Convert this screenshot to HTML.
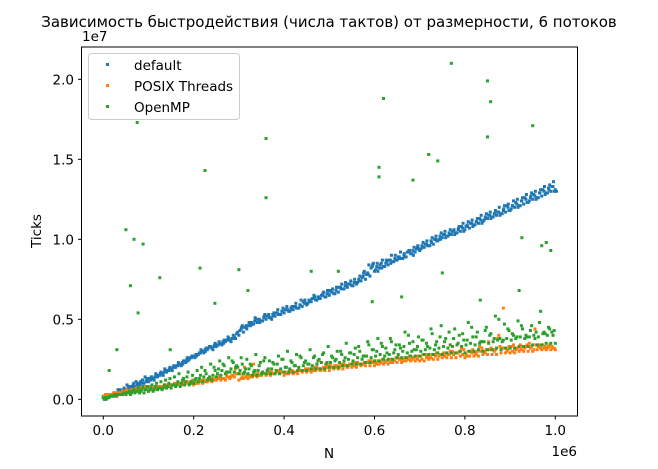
<!DOCTYPE html>
<html><head><meta charset="utf-8"><style>
html,body{margin:0;padding:0;background:#fff;}
svg{display:block;font-family:"DejaVu Sans","Liberation Sans",sans-serif;}
</style></head><body>
<svg id="chart" width="658" height="469" viewBox="0 0 658 469">
<rect width="658" height="469" fill="#fff"/>
<text x="329" y="27" text-anchor="middle" font-size="15" fill="#000">Зависимость быстродействия (числа тактов) от размерности, 6 потоков</text>
<g id="marks"></g>
<rect x="81.5" y="47" width="496" height="369" fill="none" stroke="#000" stroke-width="1"/>
<g id="xticks"></g>
<g id="yticks"></g>
<text x="82" y="41" font-size="13.5">1e7</text>
<text x="577" y="456" font-size="13.5" text-anchor="end">1e6</text>
<text x="329" y="458" font-size="13.5" text-anchor="middle">N</text>
<text x="41" y="231" font-size="13.5" text-anchor="middle" transform="rotate(-90 41 231)">Ticks</text>
<g>
<rect x="88.5" y="53.5" width="151" height="66" rx="3" fill="#fff" fill-opacity="0.8" stroke="#ccc"/>
<rect x="106" y="63" width="3" height="3" fill="#1f77b4"/>
<text x="134" y="70" font-size="13.5">default</text>
<rect x="106" y="84" width="3" height="3" fill="#ff7f0e"/>
<text x="134" y="91" font-size="13.5">POSIX Threads</text>
<rect x="106" y="105" width="3" height="3" fill="#2ca02c"/>
<text x="134" y="112" font-size="13.5">OpenMP</text>
</g>
</svg>
<script>
// values in units of 1e5 ticks; each run sampled every 10k of N with its own offset
const xTickLabels = ["0.0","0.2","0.4","0.6","0.8","1.0"];
const yTickLabels = ["0.0","0.5","1.0","1.5","2.0"];
const defaultA = [1,2,3,4,5,6,7,8,9,10,11,13,14,16,17,19,20,22,24,25,27,28,30,31,32,33,35,36,37,39,40,42,46,47,48,49,50,51,52,53,54,55,56,57,58,59,61,62,63,64,65,66,67,69,70,71,72,74,75,77,80,82,83,84,86,87,88,89,91,92,93,95,96,97,99,101,102,103,104,105,106,107,109,110,111,113,114,115,116,117,118,120,121,122,123,125,126,127,129,130,131];
const defaultB = [1,2,4,4,6,7,8,9,10,11,12,14,15,17,18,20,21,23,25,26,28,29,31,33,33,34,36,37,38,41,44,45,47,49,50,51,52,53,54,55,56,57,58,59,60,62,63,64,65,66,67,68,70,71,72,73,75,77,79,83,83,85,85,87,88,89,90,92,93,95,96,97,99,100,102,103,104,105,106,107,109,110,111,112,114,115,116,117,118,120,121,122,124,125,126,127,129,130,132,133];
const defaultC = [0,3,2,6,5,9,8,11,11,14,13,12,15,15,18,18,21,21,23,26,26,29,29,32,31,34,34,37,36,38,43,45,48,47,50,49,52,50,54,53,56,55,58,57,61,60,63,62,65,64,68,66,70,69,72,71,73,76,78,82,81,84,83,87,86,89,88,92,91,94,94,97,96,100,100,103,102,105,104,108,108,110,109,113,112,115,114,117,116,121,119,123,121,126,124,128,126,131,129,133,130];
const defaultD = [1,3,4,6,6,8,10,10,12,13,14,15,17,18,20,20,22,24,24,27,28,30,32,33,35,35,37,38,40,42,46,44,48,50,49,53,51,54,53,57,56,58,57,62,60,62,64,63,67,66,69,70,72,71,74,73,77,80,84,85,80,87,86,90,87,92,89,93,95,94,98,96,101,99,104,101,106,103,108,105,111,108,113,110,116,113,118,115,121,118,124,120,126,123,129,125,131,128,134,130];
const defaultE = [0,2,3,5,7,7,9,10,12,12,14,16,16,19,19,21,23,22,26,27,27,31,30,33,34,36,35,39,38,41,45,46,46,51,48,52,53,52,56,55,58,56,60,59,62,61,65,64,66,68,67,70,69,73,72,75,74,79,78,84,85,82,87,85,90,88,91,93,90,96,95,99,98,102,100,105,103,106,107,110,108,112,111,115,113,117,116,120,119,122,121,125,124,128,127,130,129,133,131,136];
const posixA = [2,3,3,4,4,5,5,6,6,7,5,6,7,7,8,8,9,9,10,10,9,10,10,11,11,12,12,12,13,14,12,13,13,14,14,15,15,15,16,16,15,16,16,16,17,17,17,18,18,18,18,19,19,19,20,20,20,21,21,21,21,22,22,22,23,23,23,24,24,24,24,24,25,25,25,26,26,26,26,27,26,27,27,27,28,28,28,28,29,29,29,29,30,30,30,30,31,31,31,31,31];
const posixB = [3,3,4,4,5,5,6,6,7,7,6,7,7,8,8,9,10,9,11,10,10,11,11,12,12,13,13,14,15,16,13,14,14,15,15,16,16,16,17,17,16,17,17,18,18,19,18,19,19,20,20,20,21,21,22,21,22,22,23,23,22,23,24,23,24,25,24,25,26,25,25,26,26,27,28,27,28,28,29,28,27,29,28,30,29,31,30,40,57,31,30,32,31,33,32,44,34,32,33,32];
const posixC = [2,3,4,4,5,6,6,7,7,8,8,7,8,8,9,9,10,10,11,11,10,11,12,12,13,14,13,15,14,19,16,20,15,22,16,17,16,17,18,17,17,18,17,19,18,19,19,20,19,20,21,21,20,22,21,22,23,22,23,24,23,24,23,25,24,26,25,26,25,27,27,28,26,28,27,29,28,30,29,32,28,30,29,33,30,36,31,38,32,30,33,31,34,32,35,31,33,34,32,33];
const posixD = [2,3,3,4,5,5,6,7,7,8,7,8,8,9,9,10,10,11,10,12,11,12,11,13,12,14,13,14,15,16,14,15,15,16,15,16,17,16,18,17,16,18,17,18,19,18,20,19,20,21,20,21,22,21,22,23,22,23,24,23,24,25,24,25,26,25,26,27,26,27,28,27,28,29,28,29,30,29,30,31,30,31,30,32,31,32,31,33,32,33,34,32,33,34,33,34,32,33,34,32];
const openmpA = [1,1,2,2,3,3,3,4,4,4,5,5,6,6,7,7,8,8,9,9,10,11,11,12,12,14,15,16,17,17,16,16,16,15,15,16,16,16,16,16,17,17,17,18,18,18,19,19,19,19,20,20,20,21,21,22,22,22,23,23,24,24,25,25,25,26,26,26,27,27,27,28,28,28,29,28,29,29,29,30,29,30,30,31,30,31,31,32,31,32,32,32,33,33,33,34,34,34,35,35,35];
const openmpB = [1,2,3,3,4,4,5,5,6,6,7,8,7,9,10,9,11,12,14,11,13,15,18,14,20,19,22,17,24,21,26,19,22,18,21,24,19,23,22,25,20,24,21,27,23,22,26,24,28,23,27,25,30,26,29,28,33,27,36,31,30,35,32,38,31,34,33,40,36,33,37,35,44,34,39,36,42,38,35,41,37,45,39,36,43,40,38,50,37,44,41,39,46,40,43,38,48,42,45,40];
const openmpC = [0,1,2,3,3,4,4,5,5,6,6,6,7,7,8,9,9,10,11,10,12,13,14,13,15,16,18,17,19,20,18,17,19,17,18,17,18,19,18,19,20,19,21,20,21,22,21,22,23,22,23,24,23,24,25,24,26,25,27,26,27,28,27,28,29,28,30,29,30,31,30,31,32,31,32,33,32,33,34,33,34,35,34,35,36,35,36,37,36,38,37,38,39,38,39,40,39,41,40,42];
const openmpD = [1,2,2,3,4,5,6,7,8,8,9,10,11,12,13,14,16,13,17,15,18,20,16,22,18,24,21,26,23,20,22,25,21,28,23,26,24,22,27,25,30,23,28,26,24,31,27,25,29,33,26,30,28,35,29,32,30,27,34,31,38,33,29,36,34,32,42,35,31,39,37,33,41,36,46,38,34,44,40,37,48,39,42,36,45,41,52,38,47,43,40,49,44,39,46,42,55,41,44,43];
// outliers: N in units of 1e6, ticks in units of 1e7
const openmpOutlierN = [0.075,0.05,0.068,0.088,0.06,0.077,0.125,0.214,0.225,0.30,0.36,0.36,0.32,0.46,0.62,0.61,0.61,0.685,0.72,0.74,0.77,0.85,0.857,0.85,0.95,0.97,0.98,0.99,0.92,0.75,0.926,0.834,0.66,0.595,0.013,0.03,0.148,0.247,0.52];
const openmpOutlierTicks = [1.73,1.06,1.0,0.97,0.71,0.54,0.76,0.82,1.43,0.81,1.63,1.26,0.68,0.80,1.88,1.45,1.39,1.37,1.53,1.49,2.1,1.99,1.86,1.64,1.71,0.96,0.98,0.93,0.68,0.79,1.01,0.62,0.64,0.61,0.18,0.31,0.31,0.6,0.8];

const NS='http://www.w3.org/2000/svg';
function xScale(n){ return 103.3 + n*452; }      // n in 1e6
function yScale(v){ return 399.3 - v*160; }      // v in 1e7
const marks=document.getElementById('marks');
function dot(n,v,color,name){
  const r=document.createElementNS(NS,'rect');
  r.setAttribute('x',(xScale(n)-1.5).toFixed(2));
  r.setAttribute('y',(yScale(v)-1.5).toFixed(2));
  r.setAttribute('width','3');r.setAttribute('height','3');
  r.setAttribute('fill',color);
  
  
  marks.appendChild(r);
}
function series(arr,offset,color,name){
  arr.forEach((v,i)=>dot((i*10+offset)/1000, v/100, color, name));
}
series(defaultA,0,'#1f77b4','default-point');
series(defaultB,5,'#1f77b4','default-point');
series(defaultC,2.5,'#1f77b4','default-point');
series(defaultD,7.5,'#1f77b4','default-point');
series(defaultE,6,'#1f77b4','default-point');
series(posixA,0,'#ff7f0e','posix-point');
series(posixB,5,'#ff7f0e','posix-point');
series(posixC,2.5,'#ff7f0e','posix-point');
series(posixD,7.5,'#ff7f0e','posix-point');
series(openmpA,0,'#2ca02c','openmp-point');
series(openmpB,5,'#2ca02c','openmp-point');
series(openmpC,2.5,'#2ca02c','openmp-point');
series(openmpD,7.5,'#2ca02c','openmp-point');
openmpOutlierN.forEach((n,i)=>dot(n,openmpOutlierTicks[i],'#2ca02c','openmp-outlier'));

const xt=document.getElementById('xticks');
xTickLabels.forEach((lab)=>{
  const x=xScale(parseFloat(lab));
  const l=document.createElementNS(NS,'line');
  l.setAttribute('x1',x);l.setAttribute('x2',x);l.setAttribute('y1',416);l.setAttribute('y2',419.5);
  l.setAttribute('stroke','#000');
  
  
  xt.appendChild(l);
  const t=document.createElementNS(NS,'text');
  t.setAttribute('x',x);t.setAttribute('y',435);t.setAttribute('text-anchor','middle');t.setAttribute('font-size','13.5');
  t.textContent=lab;
  
  
  xt.appendChild(t);
});
const yt=document.getElementById('yticks');
yTickLabels.forEach((lab)=>{
  const y=yScale(parseFloat(lab));
  const l=document.createElementNS(NS,'line');
  l.setAttribute('x1',78);l.setAttribute('x2',81.5);l.setAttribute('y1',y);l.setAttribute('y2',y);
  l.setAttribute('stroke','#000');
  
  
  yt.appendChild(l);
  const t=document.createElementNS(NS,'text');
  t.setAttribute('x',74);t.setAttribute('y',y+5);t.setAttribute('text-anchor','end');t.setAttribute('font-size','13.5');
  t.textContent=lab;
  
  
  yt.appendChild(t);
});
</script>
</body></html>
